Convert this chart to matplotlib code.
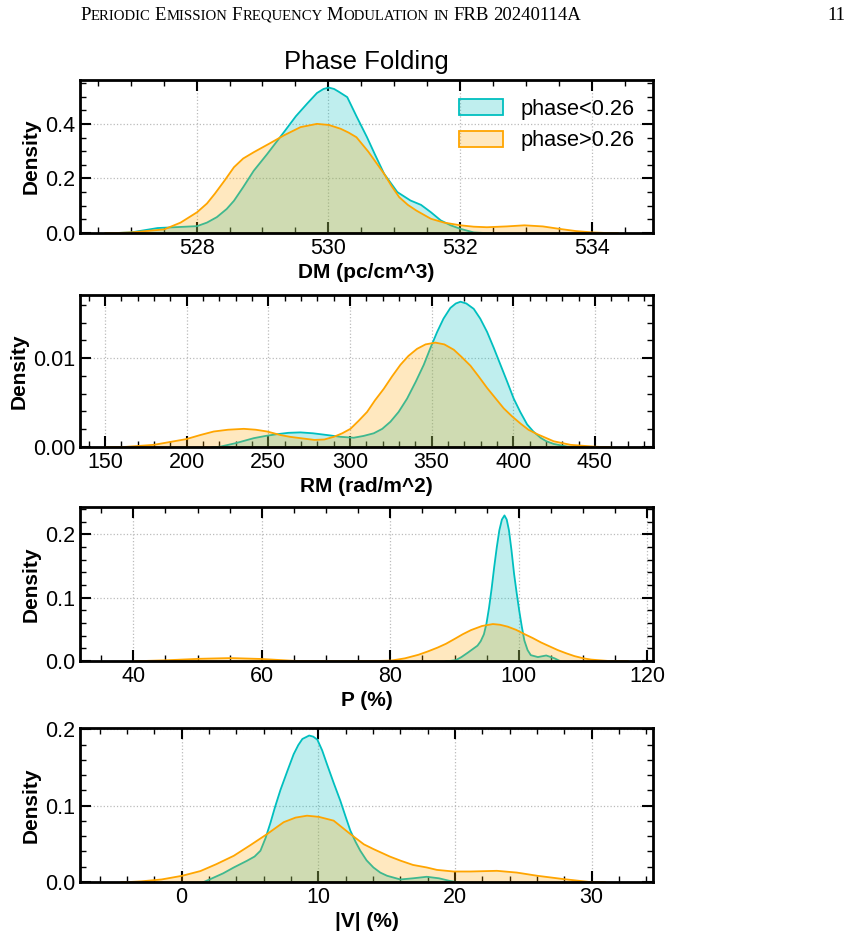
import numpy as np
import matplotlib
matplotlib.use("Agg")
import matplotlib.pyplot as plt
from matplotlib.colors import to_rgba
from matplotlib.patches import Patch
from matplotlib.ticker import MultipleLocator

plt.rcParams['font.family'] = ['Liberation Sans', 'DejaVu Sans']

# density curves (x, density) for the two phase groups
dm_x_lo = [526.6, 527.0, 527.4, 528.0, 528.15, 528.3, 528.45, 528.56, 528.7, 528.86, 529.06, 529.32,
           529.5, 529.67, 529.82, 529.92, 530.0, 530.08, 530.15, 530.28, 530.42, 530.58, 530.7,
           530.84, 531.04, 531.24, 531.4, 531.55, 531.7, 531.85, 532.0, 532.2, 532.5]
dm_y_lo = [0.0, 0.004, 0.02, 0.027, 0.04, 0.06, 0.09, 0.12, 0.17, 0.23, 0.29, 0.372,
           0.43, 0.476, 0.515, 0.53, 0.535, 0.53, 0.52, 0.50, 0.43, 0.353, 0.29,
           0.219, 0.152, 0.121, 0.105, 0.078, 0.048, 0.03, 0.017, 0.004, 0.0]
dm_x_hi = [526.6, 527.0, 527.5, 527.75, 528.0, 528.15, 528.27, 528.42, 528.56, 528.7, 528.86, 529.1,
           529.32, 529.57, 529.82, 530.0, 530.18, 530.3, 530.42, 530.6, 530.84, 530.95, 531.07, 531.2,
           531.33, 531.55, 531.75, 532.0, 532.2, 532.4, 532.7, 532.97, 533.25, 533.5, 533.75, 534.0,
           534.4]
dm_y_hi = [0.0, 0.004, 0.015, 0.04, 0.078, 0.11, 0.146, 0.195, 0.243, 0.275, 0.298, 0.33,
           0.36, 0.39, 0.402, 0.398, 0.384, 0.37, 0.353, 0.30, 0.219, 0.175, 0.133, 0.105,
           0.084, 0.054, 0.04, 0.03, 0.025, 0.023, 0.026, 0.03, 0.026, 0.017, 0.009, 0.004,
           0.0]

rm_x_lo = [215, 220.4, 230, 240.8, 248, 255.1, 262, 269.4, 277, 285.8, 294, 302, 308, 314.3, 319.5,
           324.5, 329.5, 334.7, 340, 344.9, 349, 353.1, 357, 361.2, 364.5, 367.4, 371, 375.5, 379.5,
           383.7, 387.8, 391.9, 396, 400, 404, 408.2, 412, 416.4, 420, 424.5, 432.7, 440]
rm_y_lo = [0, 0.0001, 0.0005, 0.00105, 0.0013, 0.0015, 0.00165, 0.0017, 0.0016, 0.0014, 0.0012,
           0.0011, 0.0013, 0.0016, 0.0021, 0.0029, 0.0040, 0.0055, 0.0074, 0.0093, 0.0112, 0.0130,
           0.0145, 0.0157, 0.0162, 0.0164, 0.0162, 0.0156, 0.0145, 0.0130, 0.0112, 0.0093, 0.0074,
           0.0055, 0.0040, 0.0026, 0.0018, 0.0011, 0.0007, 0.0004, 0.0001, 0.0]
rm_x_hi = [150, 159.2, 179.6, 199.4, 208, 216.3, 225, 234.7, 242, 249, 257.2, 263, 269.4, 278, 284,
           289.8, 295, 300, 305, 310.2, 315, 320.4, 325.5, 330.6, 335.5, 340.8, 346, 352, 357.5,
           363.3, 368, 373.5, 378.5, 383.7, 389, 393.9, 399, 404.1, 409, 414.4, 424.5, 434.8, 449,
           460]
rm_y_hi = [0, 0.00003, 0.0003, 0.00094, 0.0014, 0.0018, 0.0020, 0.0021, 0.0020, 0.0018, 0.0014,
           0.0012, 0.00105, 0.00085, 0.0009, 0.0012, 0.0016, 0.0021, 0.0030, 0.0040, 0.0053, 0.0066,
           0.0080, 0.0093, 0.0103, 0.0111, 0.0116, 0.0118, 0.0116, 0.0110, 0.0102, 0.0092, 0.0080,
           0.0067, 0.0055, 0.0044, 0.0035, 0.0027, 0.0020, 0.0015, 0.0007, 0.0003, 0.0001, 0]

p_x_lo = [88.5, 90.1, 91.0, 92.0, 93.5, 94.0, 94.5, 94.9, 95.3, 95.7, 96.1, 96.5, 96.9, 97.3, 97.7,
          98.05, 98.4, 98.8, 99.2, 99.6, 100.0, 100.4, 100.8, 101.3, 101.8, 102.9, 104.2, 105.5,
          106.5]
p_y_lo = [0, 0.002, 0.007, 0.014, 0.025, 0.032, 0.043, 0.06, 0.085, 0.115, 0.149, 0.18, 0.207, 0.224,
          0.2305, 0.224, 0.207, 0.175, 0.138, 0.108, 0.080, 0.055, 0.033, 0.018, 0.010, 0.007, 0.0095,
          0.005, 0]
p_x_hi = [40, 42.1, 45.2, 50.4, 55.1, 59.8, 65, 71.2, 76, 80.1, 82.2, 84.3, 85.8, 87.3, 88.6, 89.9,
          91.2, 92.5, 94.2, 95.9, 97.0, 98.2, 99.5, 100.8, 102.1, 103.4, 104.7, 106, 107.3, 108.6,
          110, 111.2, 114.3, 117]
p_y_hi = [0, 0.001, 0.002, 0.0043, 0.0054, 0.004, 0.001, 0.0, 0.0002, 0.0015, 0.005, 0.0106, 0.016,
          0.022, 0.028, 0.0354, 0.043, 0.0496, 0.056, 0.0591, 0.058, 0.055, 0.05, 0.0433, 0.037,
          0.030, 0.024, 0.018, 0.013, 0.0085, 0.005, 0.003, 0.0005, 0]

v_x_lo = [1.5, 2.07, 3.0, 3.78, 4.75, 5.3, 5.73, 6.1, 6.46, 6.8, 7.19, 7.7, 8.16, 8.5, 8.8, 9.3, 9.6,
          9.9, 10.25, 10.6, 11.1, 11.58, 11.95, 12.31, 12.7, 13.04, 13.5, 14.0, 14.5, 15.0, 15.97,
          16.9, 17.9, 18.8, 19.6, 20.3]
v_y_lo = [0, 0.0045, 0.012, 0.0197, 0.0285, 0.034, 0.0416, 0.058, 0.078, 0.099, 0.121, 0.146, 0.168,
          0.18, 0.188, 0.1925, 0.191, 0.187, 0.173, 0.155, 0.13, 0.107, 0.087, 0.068, 0.053, 0.0416,
          0.029, 0.0197, 0.013, 0.0088, 0.004, 0.0055, 0.0075, 0.0055, 0.002, 0]
v_x_hi = [-4.5, -3.0, -1.5, 0, 1.34, 2.5, 3.78, 5.0, 6.22, 7.43, 8.3, 9.14, 10.0, 11.09, 12.31, 13.3,
          14.0, 15.2, 16.0, 16.9, 17.9, 18.65, 19.87, 21.1, 23.04, 24.5, 26.0, 27.9, 29.9, 31.0]
v_y_hi = [0, 0.0015, 0.004, 0.0088, 0.015, 0.024, 0.035, 0.049, 0.0635, 0.079, 0.085, 0.0875, 0.086,
          0.081, 0.0635, 0.050, 0.0438, 0.034, 0.0285, 0.023, 0.0197, 0.0165, 0.0144, 0.0144, 0.0153,
          0.013, 0.0088, 0.0045, 0.0005, 0]

labels = ['phase<0.26', 'phase>0.26']
colors = ['c', 'orange']

panels = [
    (dm_x_lo, dm_y_lo, dm_x_hi, dm_y_hi, 'DM (pc/cm^3)', (526.23, 534.93), 2, 0.5, 0.561, 0.2, 0.05),
    (rm_x_lo, rm_y_lo, rm_x_hi, rm_y_hi, 'RM (rad/m^2)', (134.7, 485.6), 50, 10, 0.0171, 0.01, 0.002),
    (p_x_lo, p_y_lo, p_x_hi, p_y_hi, 'P (%)', (31.7, 120.9), 20, 5, 0.243, 0.1, 0.02),
    (v_x_lo, v_y_lo, v_x_hi, v_y_hi, '|V| (%)', (-7.44, 34.5), 10, 2, 0.2017, 0.1, 0.02),
]
# axes boxes in figure pixels: top, bottom
boxes = [(80, 233), (295, 447), (507, 661), (728, 882)]

W, H = 851, 939
fig = plt.figure(figsize=(W / 100, H / 100), dpi=100)

for (xl, yl, xh, yh, xlabel, xlim, xmaj, xmin, ytop, ymaj, ymin), (top, bot) in zip(panels, boxes):
    ax = fig.add_axes([80 / W, 1 - bot / H, 573 / W, (bot - top) / H])
    for xs, ys, c in [(xl, yl, colors[0]), (xh, yh, colors[1])]:
        ax.fill_between(xs, ys, 0, facecolor=to_rgba(c, 0.25), edgecolor=c, linewidth=1.3)
    ax.set_xlim(*xlim)
    ax.set_ylim(0, ytop)
    ax.xaxis.set_major_locator(MultipleLocator(xmaj))
    ax.xaxis.set_minor_locator(MultipleLocator(xmin))
    ax.yaxis.set_major_locator(MultipleLocator(ymaj))
    ax.yaxis.set_minor_locator(MultipleLocator(ymin))
    ax.tick_params(which='both', direction='in', top=True, right=True, labelsize=15.5)
    ax.tick_params(which='major', length=8, width=1.5)
    ax.tick_params(which='minor', length=4, width=1.0)
    for s in ax.spines.values():
        s.set_linewidth(2)
    ax.grid(True, which='major', linestyle=':', color='#bbbbbb', linewidth=0.9)
    ax.set_axisbelow(True)
    ax.set_xlabel(xlabel, fontsize=15, fontweight='bold', labelpad=3)
    ax.set_ylabel('Density', fontsize=15, fontweight='bold', labelpad=3)
    if top == 80:
        ax.set_title('Phase Folding', fontsize=18.5, pad=8)
        handles = [Patch(facecolor=to_rgba(c, 0.25), edgecolor=c, linewidth=1.3) for c in colors]
        ax.legend(handles, labels, loc='upper right', frameon=False, fontsize=15.7,
                  handlelength=2.0, handleheight=0.75, handletextpad=0.8,
                  borderaxespad=0.45, labelspacing=0.5)

# running header in small caps
renderer = fig.canvas.get_renderer()
header = 'Periodic Emission Frequency Modulation in FRB 20240114A'
big, small = 13.5, 10.6
x = 80.0
y = H - 19.5
for word in header.split(' '):
    runs = []
    for ch in word:
        low = ch.islower()
        if runs and runs[-1][0] == low:
            runs[-1][1] += ch
        else:
            runs.append([low, ch])
    for low, txt in runs:
        t = fig.text(x / W, y / H, txt.upper(), fontsize=small if low else big,
                     family='Liberation Serif', ha='left', va='baseline')
        x += t.get_window_extent(renderer).width
    x += 4.5
fig.text(845 / W, y / H, '11', fontsize=big, family='Liberation Serif', ha='right', va='baseline')

fig.savefig('out.png', dpi=100)
